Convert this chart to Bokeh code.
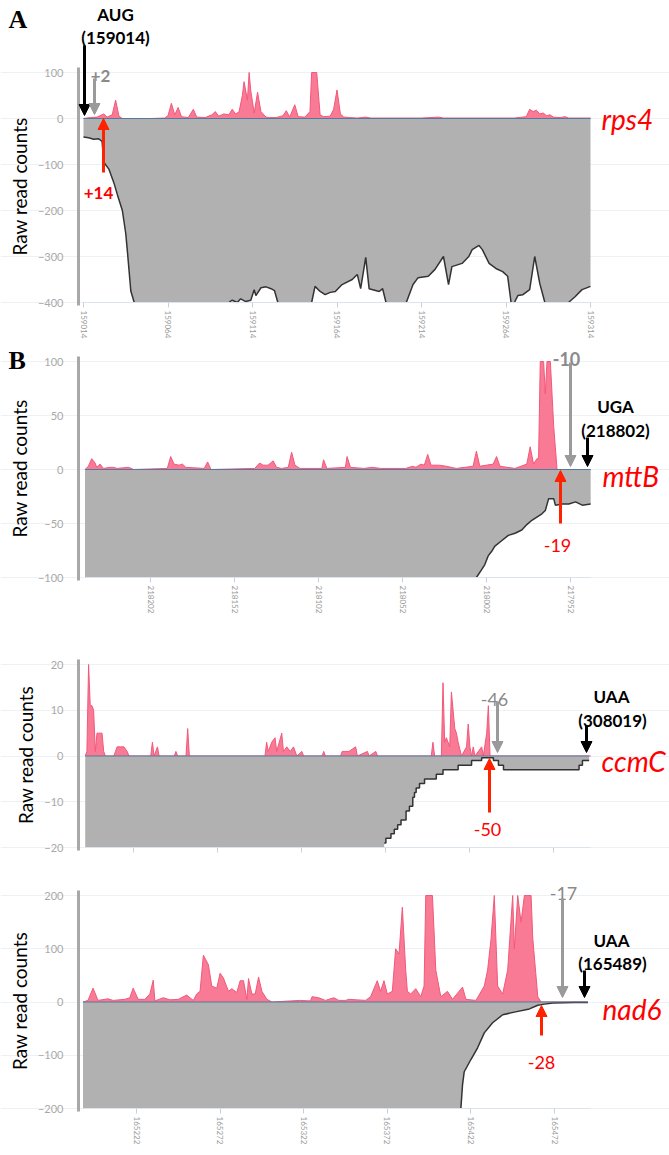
import math
from bokeh.plotting import figure
from bokeh.layouts import column
from bokeh.models import (Range1d, FixedTicker, Label, Arrow, NormalHead,
                          BasicTickFormatter, CustomJSTickFormatter)
from bokeh.embed import file_html
from bokeh.resources import INLINE

# ---------------- DATA ----------------
# Panel A: rps4 (positions = nt from AUG 159014); values beyond the display range were clipped in the source
RPS4_START = 159014
rps4_x_ticks = [159014, 159064, 159114, 159164, 159214, 159264, 159314]
rps4_y_ticks = [-400, -300, -200, -100, 0, 100]
rps4_plus_pos = [0, 4, 8, 12, 14, 17, 19, 21, 23, 40, 48, 50, 52, 54, 56, 58, 62, 65, 67, 72,
                 76, 78, 80, 83, 86, 88, 90, 92, 94, 95, 97, 98, 99, 101, 103, 105, 108, 110, 114, 118,
                 120, 122, 125, 127, 131, 134, 135, 138, 140, 142, 146, 148, 150, 152, 154, 158, 162, 167, 170, 200,
                 210, 213, 255, 262, 264, 266, 268, 270, 272, 274, 276, 278, 282, 285, 287, 300]
rps4_plus_val = [0, 2, 3, 10, 3, 8, 40, 5, 0, 0, 1, 6, 33, 8, 24, 4, 2, 20, 3, 2,
                 8, 15, 5, 10, 8, 20, 10, 14, 50, 80, 40, 110, 60, 12, 57, 15, 3, 2, 2, 6,
                 17, 3, 30, 4, 3, 15, 110, 110, 8, 4, 5, 20, 62, 10, 3, 2, 1, 3, 1, 1,
                 3, 1, 1, 4, 20, 15, 18, 10, 12, 6, 8, 3, 2, 4, 1, 1]
rps4_minus_pos = [0, 3, 6, 9, 11, 12, 15, 18, 20, 23, 25, 26, 28, 30, 86, 88, 91, 93, 96, 99,
                  101, 102, 105, 108, 111, 113, 115, 117, 135, 137, 140, 143, 146, 149, 153, 159, 162, 164, 167, 169,
                  175, 177, 179, 188, 191, 195, 198, 204, 208, 213, 216, 218, 224, 228, 230, 234, 236, 240, 244, 248,
                  251, 253, 255, 257, 260, 264, 267, 270, 273, 287, 291, 295, 300]
rps4_minus_val = [-40, -42, -45, -44, -50, -95, -110, -140, -165, -200, -250, -290, -375, -430, -430, -395, -400, -392, -398, -395,
                  -372, -385, -368, -366, -370, -374, -410, -430, -430, -365, -376, -383, -378, -376, -361, -350, -339, -370, -302, -370,
                  -376, -370, -430, -430, -405, -361, -346, -343, -328, -300, -361, -322, -315, -300, -285, -276, -285, -315, -326, -333,
                  -343, -430, -400, -385, -383, -372, -300, -359, -430, -430, -387, -372, -365]

# Panel B1: mttB (positions = nt above 217940, axis reversed)
MTTB_BASE = 217940
mttb_x_ticks = [218202, 218152, 218102, 218052, 218002, 217952]
mttb_y_ticks = [-100, -50, 0, 50, 100]
mttb_plus_pos = [0, 20, 21, 22, 23, 24, 26, 27, 28, 30, 31, 32, 34, 36, 38, 45, 54, 56, 58, 66,
                 68, 70, 80, 83, 86, 90, 95, 97, 99, 101, 104, 106, 110, 125, 130, 135, 143, 145, 146, 157,
                 159, 160, 173, 176, 178, 180, 184, 187, 189, 192, 195, 197, 200, 226, 228, 230, 241, 243, 245, 248,
                 250, 252, 272, 275, 282, 284, 286, 290, 292, 294, 295, 297, 299, 301]
mttb_plus_val = [0, 0, 20, 40, 70, 120, 120, 70, 120, 120, 10, 10, 5, 21, 5, 1, 3, 12, 5, 3,
                 17, 3, 1, 2, 3, 4, 4, 14, 4, 5, 2, 3, 1, 1, 2, 1, 2, 12, 2, 1,
                 9, 1, 1, 4, 16, 2, 1, 2, 8, 4, 4, 6, 1, 0, 7, 1, 2, 5, 4, 5,
                 12, 1, 0, 2, 1, 2, 2, 1, 5, 2, 6, 10, 3, 0]
mttb_minus_pos = [0, 5, 9, 13, 17, 21, 22, 25, 27, 29, 32, 35, 38, 41, 45, 49, 53, 57, 59, 61,
                  63, 65, 68, 70, 301]
mttb_minus_val = [-32, -33, -30, -32, -32, -33, -27, -27, -38, -41, -44, -47, -51, -56, -59, -61, -66, -71, -76, -80,
                  -88, -93, -100, -115, -115]

# Panel B2: ccmC (relative positions, tick labels not shown)
ccmc_x_ticks = [33, 83, 133, 183, 233, 283]
ccmc_y_ticks = [-20, -10, 0, 10, 20]
ccmc_plus_pos = [4, 5, 6, 7, 8, 9, 10, 11, 12, 13, 14, 15, 16, 21, 22, 23, 25, 27, 29, 30,
                 43, 44, 45, 47, 48, 57, 58, 59, 64, 65, 66, 111, 112, 113, 115, 117, 118, 121, 122, 124,
                 126, 128, 130, 133, 134, 145, 146, 147, 156, 157, 159, 161, 165, 166, 172, 173, 177, 178, 210, 211,
                 212, 216, 217, 218, 219, 221, 222, 224, 225, 226, 228, 231, 232, 233, 234, 235, 236, 240, 241, 243,
                 244, 245, 305]
ccmc_plus_val = [0, 1, 20, 11, 11, 10, 1, 5, 5, 5, 5, 1, 0, 0, 1, 2, 2, 2, 1, 0,
                 0, 3, 0, 2, 0, 0, 1, 0, 0, 6, 0, 0, 3, 1, 3, 4, 1, 5, 1, 2,
                 1, 2, 0, 1, 0, 0, 1, 0, 0, 1, 1, 1, 2, 0, 1, 0, 1, 0, 0, 3,
                 0, 0, 16, 3, 4, 2, 14, 6, 5, 3, 0, 2, 7, 2, 0, 2, 0, 2, 0, 5,
                 11, 0, 0]
ccmc_minus_pos = [4, 182, 183, 186, 188, 190, 192, 195, 197, 199, 200, 201, 203, 206, 213, 217, 226, 230, 234, 240,
                  247, 250, 253, 298, 300, 304]
ccmc_minus_val = [-22, -19, -18, -17, -16, -15, -14, -12, -11, -9, -8, -7, -6, -5, -4, -3, -2, -2, -1, -0.4,
                  -1, -2, -3, -2, -1, -1]

# Panel B3: nad6 (positions = nt above 165190)
NAD6_BASE = 165190
nad6_x_ticks = [165222, 165272, 165322, 165372, 165422, 165472]
nad6_y_ticks = [-200, -100, 0, 100, 200]
nad6_plus_pos = [0, 3, 6, 9, 15, 18, 25, 28, 30, 33, 37, 40, 42, 43, 48, 52, 57, 62, 66, 68,
                 70, 72, 75, 77, 80, 82, 84, 87, 89, 92, 94, 96, 98, 99, 101, 103, 105, 107, 110, 113,
                 124, 130, 136, 137, 141, 145, 150, 153, 157, 159, 169, 172, 176, 178, 180, 182, 185, 187, 189, 191,
                 193, 194, 196, 199, 202, 204, 205, 209, 211, 214, 218, 221, 227, 229, 235, 240, 242, 244, 246, 248,
                 251, 254, 257, 258, 260, 262, 264, 266, 268, 269, 272, 274, 302]
nad6_plus_val = [0, 3, 26, 3, 6, 3, 5, 8, 26, 5, 5, 15, 41, 2, 8, 4, 5, 13, 3, 15,
                 20, 88, 70, 30, 26, 54, 45, 20, 25, 18, 40, 40, 5, 44, 15, 15, 47, 20, 5, 0,
                 2, 3, 2, 10, 8, 3, 8, 3, 3, 5, 3, 10, 40, 20, 40, 15, 20, 100, 90, 178,
                 60, 20, 15, 25, 10, 30, 220, 220, 60, 10, 20, 5, 28, 5, 3, 30, 60, 117, 220, 30,
                 15, 60, 220, 100, 220, 150, 220, 220, 220, 120, 10, 0, 0]
nad6_minus_pos = [0, 226, 227, 228, 232, 236, 240, 245, 251, 258, 267, 272, 276, 281, 294, 302]
nad6_minus_val = [-215, -215, -155, -131, -108, -86, -58, -39, -24, -19, -13, -6, -4, -2, -1, -1]

# ---------------- STYLE ----------------
PINK_FILL = "#f8738f"
PINK_LINE = "#f2587a"
GRAY_FILL = "#b1b1b1"
GRAY_LINE = "#333333"
ZERO_LINE = "#56789e"
RED = "#ff0000"
ARROW_RED = "#ff2200"
GRAY_TXT = "#8a8a8a"
ARROW_GRAY = "#9a9a9a"
FONT = "Lato"
NAN = float("nan")

FIG_W = 669
AXIS_PX = 78      # page x of the y-axis bar
DATA_R_PX = 590   # page x of the right end of the tracks


class Panel:
    """One track panel. The frame fills the whole figure so that the annotations
    drawn around the tracks are not clipped; the axes sit at fixed locations."""

    def __init__(self, fig_top, fig_bottom, xref, yref, ylims, yticks, xticks,
                 data_left_px, show_xlabels=True):
        (px1, x1), (px2, x2) = xref
        (py1, y1), (py2, y2) = yref
        self.sx = (x2 - x1) / (px2 - px1)
        self.sy = (y2 - y1) / (py2 - py1)
        self.px1, self.x1, self.py1, self.y1 = px1, x1, py1, y1
        self.ymin, self.ymax = ylims
        p = figure(width=FIG_W, height=fig_bottom - fig_top,
                   x_range=Range1d(self.fx(0), self.fx(FIG_W)),
                   y_range=Range1d(self.fy(fig_bottom), self.fy(fig_top)),
                   output_backend="svg", toolbar_location=None, title=None,
                   min_border=0, min_border_left=0, min_border_right=0,
                   min_border_top=0, min_border_bottom=0)
        p.outline_line_color = None
        p.background_fill_color = "white"
        p.border_fill_color = "white"
        frame_top_px = py1 + (self.ymax - y1) / self.sy
        frame_bot_px = py1 + (self.ymin - y1) / self.sy

        ya = p.yaxis[0]
        ya.fixed_location = self.fx(AXIS_PX)
        ya.bounds = (self.fy(frame_bot_px + 3), self.fy(frame_top_px - 5))
        ya.ticker = FixedTicker(ticks=yticks)
        ya.axis_line_color = "#a8a8a8"
        ya.axis_line_width = 3
        ya.major_tick_line_color = None
        ya.minor_tick_line_color = None
        ya.major_label_text_color = "#a9a9a9"
        ya.major_label_text_font = FONT
        ya.major_label_text_font_size = "11px"
        ya.major_label_standoff = 9
        ya.axis_label = "Raw read counts"
        ya.axis_label_text_font = FONT
        ya.axis_label_text_font_size = "19px"
        ya.axis_label_text_font_style = "normal"
        ya.axis_label_text_color = "black"
        ya.axis_label_standoff = 4

        xa = p.xaxis[0]
        xa.fixed_location = self.ymin
        xa.bounds = tuple(sorted((self.fx(data_left_px), self.fx(DATA_R_PX))))
        xa.ticker = FixedTicker(ticks=xticks)
        if show_xlabels:
            xa.formatter = BasicTickFormatter(use_scientific=False)
        else:
            xa.formatter = CustomJSTickFormatter(code="return ''")
        xa.axis_line_color = "#dde3ea"
        xa.major_tick_line_color = "#c8d0da"
        xa.major_tick_out = 5
        xa.major_tick_in = 0
        xa.minor_tick_line_color = None
        xa.major_label_orientation = -math.pi / 2
        xa.major_label_text_font = FONT
        xa.major_label_text_font_size = "8px"
        xa.major_label_text_color = "#9a9a9a"
        xa.major_label_standoff = 3

        p.xgrid.grid_line_color = None
        p.ygrid.grid_line_color = "#edf1f6"
        p.ygrid.bounds = tuple(sorted((self.fx(data_left_px), self.fx(DATA_R_PX))))
        self.p = p

    def fx(self, px):
        return self.x1 + (px - self.px1) * self.sx

    def fy(self, py):
        return self.y1 + (py - self.py1) * self.sy

    def _cap(self, v):
        return min(max(v, self.ymin), self.ymax)

    def _out(self, v):
        return not (self.ymin < v < self.ymax)

    def _outline(self, xs, vals):
        # the outline runs to the display edge but is hidden along clipped stretches
        ox, oy = [], []
        for i, (x, v) in enumerate(zip(xs, vals)):
            if i > 0 and self._out(v) and self._out(vals[i - 1]):
                ox.append((x + xs[i - 1]) / 2)
                oy.append(NAN)
            ox.append(x)
            oy.append(self._cap(v))
        return ox, oy

    def areas(self, xp, vp, xm, vm, step=False):
        p = self.p
        vp_c = [self._cap(v) for v in vp]
        vm_c = [self._cap(v) for v in vm]
        p.varea(x=xp, y1=[0] * len(xp), y2=vp_c, fill_color=PINK_FILL, fill_alpha=0.95)
        p.line(x=xp, y=vp_c, line_color=PINK_LINE, line_width=1)
        if step:
            p.varea_step(x=xm, y1=vm_c, y2=[0] * len(xm), step_mode="after", fill_color=GRAY_FILL)
            sy = [NAN if self._out(v) else v for v in vm]
            p.step(x=xm, y=sy, mode="after", line_color=GRAY_LINE, line_width=1.5)
        else:
            p.varea(x=xm, y1=vm_c, y2=[0] * len(xm), fill_color=GRAY_FILL)
            ox, oy = self._outline(xm, vm)
            p.line(x=ox, y=oy, line_color=GRAY_LINE, line_width=1.5)
        p.line(x=[xm[0], xm[-1]], y=[0, 0], line_color=ZERO_LINE, line_width=1.2)

    def label(self, px, py, text, color="black", size="17px", style="normal", align="center",
              baseline="alphabetic", font=FONT):
        self.p.add_layout(Label(x=self.fx(px), y=self.fy(py), text=text, text_color=color,
                                text_font_size=size, text_font_style=style, text_align=align,
                                text_baseline=baseline, text_font=font))

    def arrow(self, px, py0, py1, color, size=11, lw=3):
        self.p.add_layout(Arrow(end=NormalHead(size=size, fill_color=color, line_color=color, line_width=1),
                                x_start=self.fx(px), y_start=self.fy(py0),
                                x_end=self.fx(px), y_end=self.fy(py1),
                                line_color=color, line_width=lw))


GENE = dict(color=RED, style="italic", size="28px", align="left")
CODON = dict(style="bold", size="17px")

# ---- Panel A: rps4 ----
A = Panel(0, 345, ((83, RPS4_START), (590, 159314)), ((72, 100), (302, -400)), (-400, 100),
          rps4_y_ticks, rps4_x_ticks, 83)
A.areas([RPS4_START + v for v in rps4_plus_pos], rps4_plus_val,
        [RPS4_START + v for v in rps4_minus_pos], rps4_minus_val)
A.label(8, 4, "A", size="26px", style="bold", align="left", baseline="top", font="Liberation Serif")
A.label(115, 14, "AUG", **CODON)
A.label(115, 37, "(159014)", **CODON)
A.arrow(84, 45, 115, "black")
A.label(100, 75, "+2", color=GRAY_TXT, style="bold", size="17px")
A.arrow(94, 78, 114, ARROW_GRAY)
A.arrow(103, 172, 118, ARROW_RED)
A.label(98, 192, "+14", color=RED, style="bold", size="17px")
A.label(601, 118, "rps4", **GENE)

# ---- Panel B1: mttB ----
B1 = Panel(345, 628, ((150, 218202), (570, 217952)), ((361, 100), (577, -100)), (-100, 100),
           mttb_y_ticks, mttb_x_ticks, 85)
B1.areas([MTTB_BASE + v for v in mttb_plus_pos], mttb_plus_val,
         [MTTB_BASE + v for v in mttb_minus_pos], mttb_minus_val)
B1.label(8, 345, "B", size="26px", style="bold", align="left", baseline="top", font="Liberation Serif")
B1.label(566, 358, "-10", color=GRAY_TXT, style="bold", size="18px")
B1.arrow(570, 362, 466, ARROW_GRAY)
B1.label(615, 406, "UGA", **CODON)
B1.label(615, 430, "(218802)", **CODON)
B1.arrow(587, 437, 466, "black")
B1.label(602, 475, "mttB", **GENE)
B1.arrow(560, 523, 470, ARROW_RED)
B1.label(557, 545, "-19", color=RED, size="18px")

# ---- Panel B2: ccmC ----
B2 = Panel(628, 870, ((78, 0), (590, 304.8)), ((664, 20), (847, -20)), (-20, 20),
           ccmc_y_ticks, ccmc_x_ticks, 85, show_xlabels=False)
B2.areas(ccmc_plus_pos, ccmc_plus_val, ccmc_minus_pos, ccmc_minus_val, step=True)
B2.label(494, 699, "-46", color=GRAY_TXT, size="18px")
B2.arrow(497, 701, 752, ARROW_GRAY)
B2.label(611, 696, "UAA", **CODON)
B2.label(612, 720, "(308019)", **CODON)
B2.arrow(586, 725, 752, "black")
B2.label(601, 760, "ccmC", **GENE)
B2.arrow(489, 812, 758, ARROW_RED)
B2.label(487, 829, "-50", color=RED, size="18px")

# ---- Panel B3: nad6 ----
B3 = Panel(870, 1150, ((136, 165222), (554, 165472)), ((895, 200), (1108, -200)), (-200, 200),
           nad6_y_ticks, nad6_x_ticks, 83)
B3.areas([NAD6_BASE + v for v in nad6_plus_pos], nad6_plus_val,
         [NAD6_BASE + v for v in nad6_minus_pos], nad6_minus_val)
B3.label(563, 893, "-17", color=GRAY_TXT, size="18px")
B3.arrow(562, 898, 997, ARROW_GRAY)
B3.label(611, 940, "UAA", **CODON)
B3.label(612, 963, "(165489)", **CODON)
B3.arrow(584, 970, 997, "black")
B3.label(602, 1008, "nad6", **GENE)
B3.arrow(541, 1035, 1005, ARROW_RED)
B3.label(541, 1062, "-28", color=RED, size="18px")

layout = column(A.p, B1.p, B2.p, B3.p, spacing=0)
open("out.html", "w").write(file_html(layout, INLINE))
